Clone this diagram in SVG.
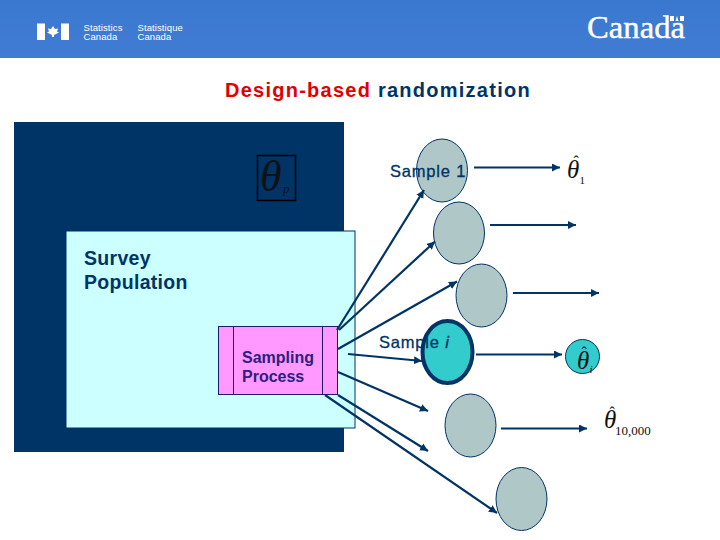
<svg xmlns="http://www.w3.org/2000/svg" width="720" height="540" viewBox="0 0 720 540">
<style>
.sans{font-family:"Liberation Sans",Arial,sans-serif}
.serif{font-family:"Liberation Serif","Times New Roman",serif}
.lab{font-size:16.500px;fill:#003366;stroke:#003366;stroke-width:.3;letter-spacing:.8px}
.sample{fill:#afc7c7;stroke:#003366;stroke-width:1}
.conn line{stroke:#003366;stroke-width:2.200;marker-end:url(#arr)}
.hdr{font-size:9.500px;fill:#fff;letter-spacing:.1px}
.th{font-style:italic;fill:#111}
.sub{fill:#111}
.hat{fill:#111;font-size:16px}
</style>
<defs>
<linearGradient id="hg" x1="0" y1="0" x2="0" y2="1"><stop offset="0" stop-color="#3a78cf"/><stop offset="1" stop-color="#417cd3"/></linearGradient>
<marker id="arr" markerUnits="userSpaceOnUse" markerWidth="9" markerHeight="9" refX="8" refY="4" orient="auto"><path d="M0,0 L8,4 L0,8 Z" fill="#003366"/></marker>
</defs>
<rect width="720" height="540" fill="#fff"/>
<g id="header">
<rect width="720" height="58" fill="url(#hg)"/>
<rect x="37" y="23.500" width="8" height="16.500" fill="#fff"/>
<rect x="61" y="23.500" width="8" height="16.500" fill="#fff"/>
<path d="M53,26 L55,29 L58,28.500 L57,31.500 L59,32.500 L54,35 L54,37 L52,37 L52,35 L47,32.500 L49,31.500 L48,28.500 L51,29 Z" fill="#fff"/>
<text class="sans hdr" x="83.500" y="31">Statistics</text>
<text class="sans hdr" x="83.500" y="40">Canada</text>
<text class="sans hdr" x="137.500" y="31">Statistique</text>
<text class="sans hdr" x="137.500" y="40">Canada</text>
<text class="serif" x="587" y="38" font-size="31" fill="#fff" stroke="#fff" stroke-width=".4" textLength="98" lengthAdjust="spacingAndGlyphs">Canada</text>
<rect x="670" y="16" width="4" height="5" fill="#fff"/>
<rect x="680" y="16" width="4" height="5" fill="#fff"/>
<path d="M677,16 L678.500,21 L675.500,21 Z" fill="#fff"/>
</g>
<text class="sans" x="225" y="96.500" font-size="20" font-weight="bold" letter-spacing="1.250" fill="#e00000">Design-based <tspan fill="#003366">randomization</tspan></text>
<g id="population">
<rect x="14" y="122" width="330" height="330" fill="#003366"/>
<rect x="66" y="231" width="289" height="197" fill="#ccffff" stroke="#003366" stroke-width="1"/>
<text class="sans" x="84" y="265" font-size="19.500" font-weight="bold" letter-spacing=".3" fill="#003366">Survey</text>
<text class="sans" x="84" y="288.500" font-size="19.500" font-weight="bold" letter-spacing=".3" fill="#003366">Population</text>
</g>
<g id="theta-p">
<rect x="257.500" y="155.500" width="38" height="45" fill="none" stroke="#000" stroke-width="1.500"/>
<text class="serif th" x="260" y="191" font-size="44" fill="#0a1a33">θ</text>
<text class="serif th" x="283" y="193" font-size="13" fill="#0a1a33">p</text>
</g>
<g id="sampling-process">
<rect x="218.500" y="326.500" width="119" height="68" fill="#ff99ff" stroke="#1f1a6b" stroke-width="1"/>
<line x1="233.500" y1="326.500" x2="233.500" y2="394.500" stroke="#1f1a6b"/>
<line x1="322.500" y1="326.500" x2="322.500" y2="394.500" stroke="#1f1a6b"/>
<text class="sans" x="242" y="363" font-size="16" font-weight="bold" fill="#2b2080">Sampling</text>
<text class="sans" x="242" y="382" font-size="16" font-weight="bold" fill="#2b2080">Process</text>
</g>
<g id="sample-1"><ellipse class="sample" cx="442" cy="170.500" rx="25.500" ry="31.500"/><text class="sans lab" x="390" y="177">Sample 1</text></g>
<g id="sample-2"><ellipse class="sample" cx="459" cy="233" rx="25.500" ry="31"/></g>
<g id="sample-3"><ellipse class="sample" cx="481.500" cy="295.500" rx="25.500" ry="31.500"/></g>
<g id="sample-i"><ellipse cx="447.500" cy="352" rx="25" ry="31" fill="#33cccc" stroke="#003366" stroke-width="4"/><text class="sans lab" x="379" y="348">Sample <tspan font-style="italic">i</tspan></text></g>
<g id="sample-5"><ellipse class="sample" cx="470.500" cy="425.500" rx="25.500" ry="31.500"/></g>
<g id="sample-6"><ellipse class="sample" cx="521.500" cy="499" rx="25.500" ry="31.500"/></g>
<g id="connectors" class="conn">
<line x1="337" y1="330" x2="424" y2="190"/>
<line x1="339" y1="330" x2="435" y2="241.500"/>
<line x1="338" y1="349" x2="457" y2="281.500"/>
<line x1="348" y1="354" x2="422" y2="361"/>
<line x1="338" y1="372" x2="428" y2="411"/>
<line x1="338" y1="395" x2="428" y2="451"/>
<line x1="325" y1="395" x2="497" y2="513"/>
<line x1="474" y1="167.500" x2="560" y2="167.500"/>
<line x1="490" y1="225" x2="576" y2="225"/>
<line x1="513" y1="293" x2="599" y2="293"/>
<line x1="476" y1="354.500" x2="562" y2="354.500"/>
<line x1="501" y1="428.500" x2="587" y2="428.500"/>
</g>
<g id="theta-1"><text class="serif hat" x="573.500" y="167">ˆ</text><text class="serif th" x="567" y="178" font-size="25">θ</text><text class="serif sub" x="579.500" y="184" font-size="11">1</text></g>
<g id="theta-i"><circle cx="582.500" cy="356.500" r="17" fill="#33cccc" stroke="#003366" stroke-width="1"/><text class="serif hat" x="581.500" y="358">ˆ</text><text class="serif th" x="577" y="369" font-size="25">θ</text><text class="serif th" x="589.500" y="373" font-size="11">i</text></g>
<g id="theta-10000"><text class="serif hat" x="609.500" y="418">ˆ</text><text class="serif th" x="604" y="428" font-size="25">θ</text><text class="serif sub" x="615" y="435" font-size="13">10,000</text></g>
</svg>
